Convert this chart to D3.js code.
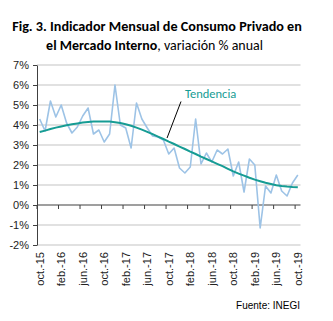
<!DOCTYPE html>
<html>
<head>
<meta charset="utf-8">
<script src="https://cdn.jsdelivr.net/npm/d3@7"></script>
<style>
body { margin: 0; background: #fff; }
svg { display: block; }
</style>
</head>
<body>
<div id="chart"></div>
<script>
// months, oct-15 .. oct-19
var meses = ["oct.-15","nov.-15","dic.-15","ene.-16","feb.-16","mar.-16","abr.-16","may.-16","jun.-16","jul.-16","ago.-16","sep.-16",
  "oct.-16","nov.-16","dic.-16","ene.-17","feb.-17","mar.-17","abr.-17","may.-17","jun.-17","jul.-17","ago.-17","sep.-17",
  "oct.-17","nov.-17","dic.-17","ene.-18","feb.-18","mar.-18","abr.-18","may.-18","jun.-18","jul.-18","ago.-18","sep.-18",
  "oct.-18","nov.-18","dic.-18","ene.-19","feb.-19","mar.-19","abr.-19","may.-19","jun.-19","jul.-19","ago.-19","sep.-19",
  "oct.-19"]

// variacion % anual
var consumo = [4.3, 3.7, 5.2, 4.4, 5.0, 4.1, 3.6, 3.9, 4.45, 4.85, 3.55, 3.75,
  3.15, 3.55, 6.0, 4.0, 3.85, 2.85, 5.1, 4.3, 3.85, 3.45, 3.4, 3.25,
  2.55, 2.85, 1.85, 1.6, 1.9, 4.3, 2.05, 2.6, 2.15, 2.75, 2.55, 2.8,
  1.45, 2.15, 0.65, 2.3, 2.0, -1.15, 0.95, 0.6, 1.5, 0.7, 0.45, 1.1,
  1.5]

var tendencia = [3.65, 3.72, 3.80, 3.87, 3.93, 3.99, 4.04, 4.08, 4.12, 4.15, 4.17, 4.18,
  4.18, 4.17, 4.14, 4.10, 4.04, 3.96, 3.87, 3.77, 3.66, 3.54, 3.42, 3.30,
  3.17, 3.05, 2.92, 2.80, 2.67, 2.55, 2.42, 2.30, 2.18, 2.06, 1.94, 1.81,
  1.68, 1.57, 1.47, 1.36, 1.27, 1.19, 1.11, 1.05, 0.99, 0.95, 0.92, 0.90,
  0.89]

var ticks_y = [-2, -1, 0, 1, 2, 3, 4, 5, 6, 7]

var width = 333
var height = 321
var font_title = "Carlito, Calibri, 'Liberation Sans Narrow', 'Open Sans', sans-serif"
var font_axis = "'Liberation Sans', Arial, sans-serif"

var svg = d3.select('#chart')
  .append('svg')
  .attr('width', width)
  .attr('height', height)

var x = d3.scaleBand()
  .domain(meses)
  .range([37, 300.5])
  .padding(0)

var y = d3.scaleLinear()
  .domain([-2, 7])
  .range([245, 65])

// shrink a text so it fits a given width
function fit_width(t, w) {
  var len = t.node().getComputedTextLength()
  var fs = parseFloat(t.style('font-size'))
  t.style('font-size', (fs * w / len) + 'px')
}

// title
var t1 = svg.append('text')
  .attr('x', 157)
  .attr('y', 30.5)
  .attr('text-anchor', 'middle')
  .style('font-family', font_title)
  .style('font-weight', 'bold')
  .style('font-size', '14px')
  .attr('fill', '#000')
  .text('Fig. 3. Indicador Mensual de Consumo Privado en')
fit_width(t1, 290)

var t2 = svg.append('text')
  .attr('x', 154.5)
  .attr('y', 50)
  .attr('text-anchor', 'middle')
  .style('font-family', font_title)
  .style('font-size', '14px')
  .attr('fill', '#000')
t2.append('tspan').style('font-weight', 'bold').text('el Mercado Interno')
t2.append('tspan').text(', variación % anual')
fit_width(t2, 217)

// gridlines
svg.append('g')
  .selectAll('line')
  .data(ticks_y.filter(function(d) { return d !== 0 }))
  .enter()
  .append('line')
  .attr('x1', x.range()[0])
  .attr('x2', x.range()[1])
  .attr('y1', function(d) { return y(d) })
  .attr('y2', function(d) { return y(d) })
  .attr('stroke', '#e1e1e1')
  .attr('stroke-width', 2)

// y axis
var y_axis = svg.append('g')
  .attr('transform', 'translate(' + x.range()[0] + ',0)')
  .call(d3.axisLeft(y)
    .tickValues(ticks_y)
    .tickFormat(function(d) { return d + '%' })
    .tickSize(4)
    .tickSizeOuter(0)
    .tickPadding(4))
y_axis.select('.domain').attr('stroke', '#404040')
y_axis.selectAll('.tick line').attr('stroke', '#404040')
y_axis.selectAll('text')
  .style('font-family', font_axis)
  .style('font-size', '11px')
  .attr('fill', '#222')

// x axis on 0%
var x_axis = svg.append('g')
x_axis.append('line')
  .attr('x1', x.range()[0])
  .attr('x2', x.range()[1])
  .attr('y1', y(0))
  .attr('y2', y(0))
  .attr('stroke', '#404040')
  .attr('stroke-width', 1.2)

var shown = meses.filter(function(d, i) { return i % 4 === 0 })

x_axis.selectAll('.tk')
  .data(shown)
  .enter()
  .append('line')
  .attr('class', 'tk')
  .attr('x1', function(d) { return x(d) })
  .attr('x2', function(d) { return x(d) })
  .attr('y1', y(0))
  .attr('y2', y(0) + 4)
  .attr('stroke', '#404040')

x_axis.selectAll('.lbl')
  .data(shown)
  .enter()
  .append('text')
  .attr('class', 'lbl')
  .attr('transform', function(d) {
    return 'translate(' + (x(d) + x.bandwidth() / 2) + ',252) rotate(-90)' })
  .attr('dy', '0.35em')
  .attr('text-anchor', 'end')
  .style('font-family', font_axis)
  .style('font-size', '11px')
  .attr('fill', '#222')
  .text(function(d) { return d })

// series
var line = d3.line()
  .x(function(d, i) { return x(meses[i]) + x.bandwidth() / 2 })
  .y(function(d) { return y(d) })

svg.append('path')
  .datum(consumo)
  .attr('d', line)
  .attr('fill', 'none')
  .attr('stroke', '#9dc3e6')
  .attr('stroke-width', 1.6)
  .attr('stroke-linejoin', 'round')

svg.append('path')
  .datum(tendencia)
  .attr('d', line)
  .attr('fill', 'none')
  .attr('stroke', '#169c94')
  .attr('stroke-width', 2)

// label for trend
svg.append('line')
  .attr('x1', 181)
  .attr('y1', 101.5)
  .attr('x2', x(meses[24]) + 1)
  .attr('y2', y(3.35))
  .attr('stroke', '#000')
  .attr('stroke-width', 1)

svg.append('text')
  .attr('x', 185)
  .attr('y', 97.5)
  .style('font-family', font_title)
  .style('font-size', '12.5px')
  .attr('fill', '#169c94')
  .text('Tendencia')

svg.append('text')
  .attr('x', 300)
  .attr('y', 308.5)
  .attr('text-anchor', 'end')
  .style('font-family', font_axis)
  .style('font-size', '10px')
  .attr('fill', '#000')
  .text('Fuente: INEGI')
</script>
</body>
</html>
